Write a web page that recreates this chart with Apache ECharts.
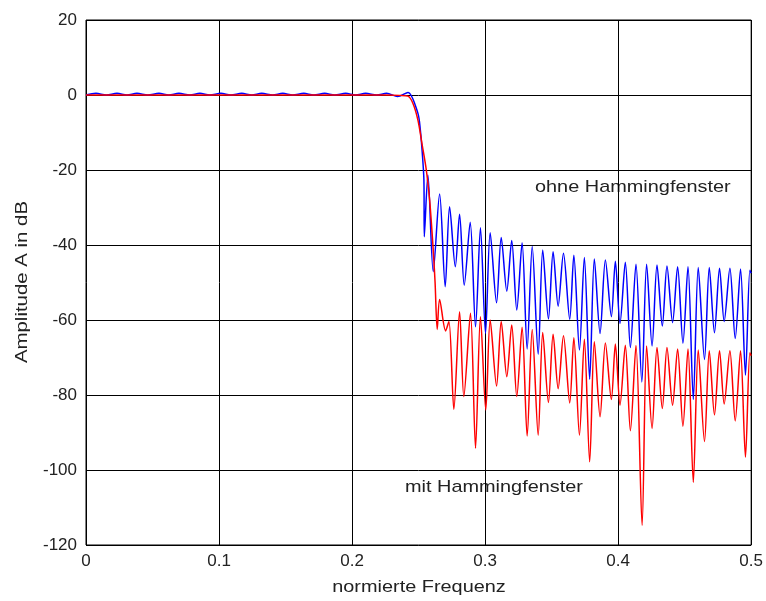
<!DOCTYPE html>
<html>
<head>
<meta charset="utf-8">
<script src="https://cdn.jsdelivr.net/npm/echarts@6/dist/echarts.min.js"></script>
<style>
html,body{margin:0;padding:0;background:#fff;}
#chart{width:766px;height:601px;}
</style>
</head>
<body>
<div id="chart"></div>
<script>
// normalized frequency (x) and amplitude in dB (y)
const blueFreq = [0,0.0075,0.0153,0.0233,0.0308,0.0383,0.0465,0.0548,0.0623,0.0698,0.0781,0.0856,0.0931,0.1014,0.1089,0.1171,0.1246,0.1321,0.1404,0.1479,0.1554,0.1637,0.1712,0.1794,0.1869,0.1952,0.2027,0.2102,0.2185,0.2260,0.2342,0.2420,0.2495,0.2513,0.2528,0.2540,
0.2543,0.2570,0.2610,0.2658,0.2700,0.2733,0.2776,0.2808,0.2843,0.2888,0.2928,0.2965,0.3003,0.3038,0.3086,0.3121,0.3163,0.3200,0.3238,0.3278,0.3316,0.3354,0.3399,0.3433,0.3476,0.3511,0.3549,0.3589,0.3636,0.3667,0.3709,0.3746,0.3786,0.3821,0.3864,0.3904,0.3949,0.3979,0.4014,0.4054,0.4092,0.4134,0.4178,0.4214,0.4255,0.4292,0.4332,0.4367,0.4409,0.4447,0.4487,0.4525,0.4565,0.4602,0.4649,0.4685,0.4724,0.4762,0.4797,0.4840,0.4880,0.4920,0.4957,0.4990,0.5];
const blueDb = [0,0.45,0,0.45,0,0.45,0,0.45,0,0.45,0,0.45,0,0.45,0,0.45,0,0.45,0,0.45,0,0.45,0,0.45,0,0.45,0,0.45,0,0.45,-0.4,0.7,-4.9,-9.3,-15.6,-22.7,
-37.8,-21.3,-47.1,-26.4,-51.1,-29.8,-45.8,-31.8,-50.7,-33.9,-61.8,-35.4,-63.6,-36.7,-55.4,-38.0,-52.3,-38.8,-57.3,-39.4,-67.7,-40.4,-69.1,-41.3,-59.7,-41.8,-56.3,-42.2,-59.8,-42.7,-68.0,-43.3,-75.8,-43.7,-63.6,-44.0,-59.1,-44.3,-60.9,-44.6,-67.3,-45.1,-76.5,-45.1,-66.9,-45.3,-61.6,-45.6,-60.7,-45.8,-66.2,-45.8,-81.2,-46.0,-70.5,-46.0,-63.4,-46.2,-60.4,-46.2,-64.9,-46.4,-74.7,-46.7,-47.5];

const redFreq = [0,0.2252,0.2357,0.2420,0.2457,0.2495,0.2525,0.2558,0.2583,0.2600,0.2613,0.2624,0.2640,0.2658,0.2703,0.2728,0.2765,0.2808,0.2840,0.2890,0.2928,0.2965,0.3005,0.3038,0.3086,0.3121,0.3163,0.3200,0.3238,0.3278,0.3316,0.3354,0.3399,0.3433,0.3476,0.3511,0.3549,0.3589,0.3636,0.3667,0.3709,0.3746,0.3786,0.3821,0.3864,0.3904,0.3949,0.3979,0.4014,0.4054,0.4092,0.4134,0.4180,0.4214,0.4255,0.4292,0.4332,0.4367,0.4409,0.4447,0.4487,0.4525,0.4565,0.4602,0.4649,0.4685,0.4724,0.4762,0.4797,0.4840,0.4880,0.4920,0.4957,0.4990,0.5];
const redDb = [0,0,-0.1,-0.3,-2.2,-6.7,-12.9,-20,-28,-36,-43.1,-50,-62.5,-54.5,-62.9,-60.4,-83.8,-57.8,-80.4,-58.2,-94.2,-59.1,-84.0,-60.0,-77.6,-60.4,-75.1,-61.3,-80.4,-61.9,-90.9,-62.5,-90.7,-63.3,-82.0,-63.8,-78.3,-64.2,-82.1,-64.7,-90.7,-65.1,-97.8,-65.8,-85.8,-66.1,-81.2,-66.4,-82.7,-66.7,-89.5,-66.8,-114.7,-66.9,-88.9,-67.3,-83.6,-67.3,-82.7,-67.7,-88.3,-67.7,-103.3,-68.0,-92.4,-68.2,-85.3,-68.2,-82.4,-68.2,-86.9,-68.2,-96.6,-68.7,-69.5];

const xTicks = [0, 0.1, 0.2, 0.3, 0.4, 0.5];
const yTicks = [-120, -100, -80, -60, -40, -20, 0, 20];
const labelOhne = 'ohne Hammingfenster';
const labelMit = 'mit Hammingfenster';
const xName = 'normierte Frequenz';
const yName = 'Amplitude A in dB';

const pair = (xs, ys) => xs.map((x, i) => [x, ys[i]]);
const font = 'Liberation Sans, Arial, sans-serif';
const txt = '17px ' + font;
const stretch = 1.17;

const chart = echarts.init(document.getElementById('chart'), null, {renderer: 'canvas'});
chart.setOption({
  animation: false,
  backgroundColor: '#fff',
  grid: {left: 86, right: 14, top: 20, bottom: 56, show: true, borderColor: '#000', borderWidth: 1, backgroundColor: 'transparent'},
  xAxis: {
    type: 'value', min: xTicks[0], max: xTicks[xTicks.length - 1], interval: 0.1,
    axisLine: {show: false}, axisTick: {show: false},
    axisLabel: {color: '#222', fontSize: 17, fontFamily: font, margin: 8},
    splitLine: {show: true, lineStyle: {color: '#000', width: 1}}
  },
  yAxis: {
    type: 'value', min: yTicks[0], max: yTicks[yTicks.length - 1], interval: 20,
    axisLine: {show: false}, axisTick: {show: false},
    axisLabel: {color: '#222', fontSize: 17, fontFamily: font, margin: 9},
    splitLine: {show: true, lineStyle: {color: '#000', width: 1}}
  },
  series: [
    {type: 'line', name: 'ohne', data: pair(blueFreq, blueDb), showSymbol: false, smooth: 0.3,
     lineStyle: {color: '#0000ff', width: 1.5}, z: 2},
    {type: 'line', name: 'mit', data: pair(redFreq, redDb), showSymbol: false, smooth: 0.3,
     lineStyle: {color: '#ff0000', width: 1.5}, z: 3}
  ],
  graphic: [
    {type: 'text', x: 535, y: 187, scaleX: stretch, style: {text: labelOhne, font: txt, fill: '#222', verticalAlign: 'middle', align: 'left'}},
    {type: 'text', x: 405, y: 487, scaleX: stretch, style: {text: labelMit, font: txt, fill: '#222', verticalAlign: 'middle', align: 'left'}},
    {type: 'text', x: 419, y: 587, scaleX: stretch, style: {text: xName, font: txt, fill: '#222', verticalAlign: 'middle', align: 'center'}},
    {type: 'text', x: 22, y: 282, rotation: Math.PI / 2, scaleX: 1.2, style: {text: yName, font: txt, fill: '#222', verticalAlign: 'middle', align: 'center'}}
  ]
});
</script>
</body>
</html>
